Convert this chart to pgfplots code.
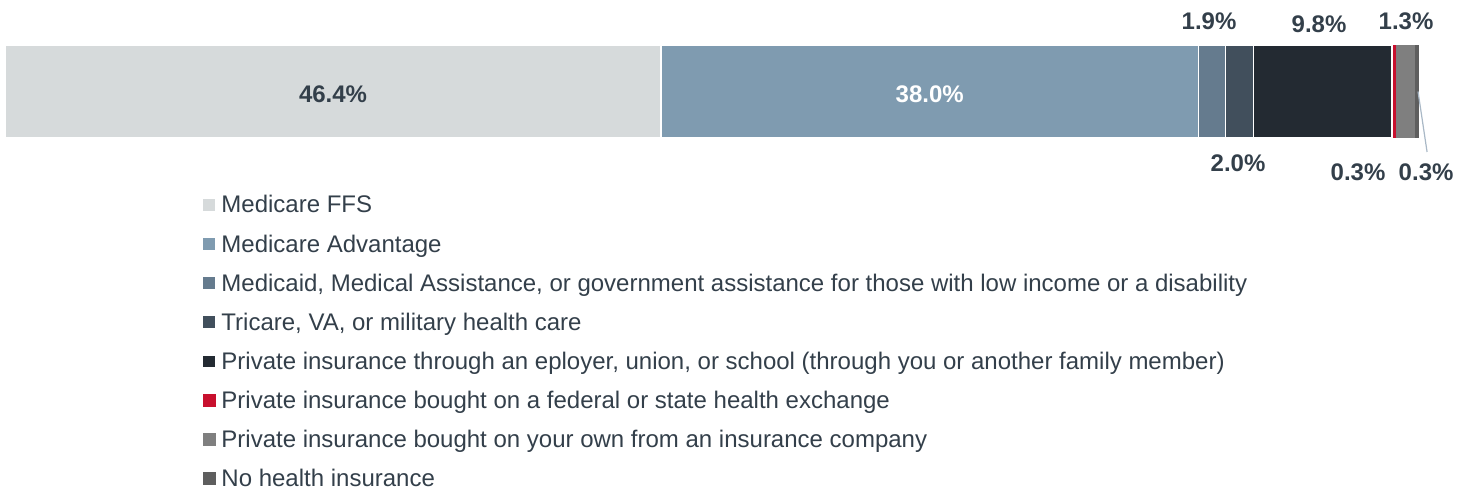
\documentclass[border=0pt]{standalone}
\usepackage{pgfplots}
\pgfplotsset{compat=1.18}
\usepackage{fontspec}
\setmainfont{Liberation Sans}
\definecolor{cFFS}{HTML}{D6DADB}
\definecolor{cMA}{HTML}{7F9BB0}
\definecolor{cMcd}{HTML}{657B8E}
\definecolor{cTri}{HTML}{414F5C}
\definecolor{cEmp}{HTML}{232A32}
\definecolor{cExc}{HTML}{C8102E}
\definecolor{cOwn}{HTML}{7F7F7F}
\definecolor{cNo}{HTML}{5E5E5E}
\definecolor{cTxt}{HTML}{333F4A}
\definecolor{cLead}{HTML}{A9B8C6}
\tikzset{lbl/.style={font=\fontsize{12bp}{14bp}\selectfont\bfseries, text=cTxt, inner sep=0pt}}
\begin{document}
\begin{tikzpicture}
\path[use as bounding box] (0,0) rectangle (736bp,-245.5bp);
\begin{axis}[
  at={(2.5bp,-69bp)}, anchor=south west,
  scale only axis, width=707bp, height=46.5bp,
  xmin=0, xmax=100, ymin=-0.5, ymax=0.5,
  hide axis, clip=false,
  xbar stacked, bar width=46.5bp,
  legend style={at={(axis description cs:0.1393,-0.612)}, anchor=north west,
    draw=none, fill=none, font=\fontsize{12bp}{14bp}\selectfont, text=cTxt,
    inner sep=0pt, outer sep=0pt,
    row sep=9.55bp, column sep=2.5bp,
    nodes={text height=9bp, text depth=1bp, inner sep=0pt}},
  legend cell align=left,
]
\addplot[fill=cFFS, draw=white, line width=0.75bp, legend image code/.code={\path (0bp,-3.25bp) rectangle (6.5bp,3.25bp);\fill[cFFS] (0.5bp,-2.25bp) rectangle (5bp,2.25bp);}] coordinates {(46.4,0)};
\addlegendentry{Medicare FFS}
\addplot[fill=cMA, draw=white, line width=0.75bp, legend image code/.code={\path (0bp,-3.25bp) rectangle (6.5bp,3.25bp);\fill[cMA] (0.5bp,-2.25bp) rectangle (5bp,2.25bp);}] coordinates {(38.0,0)};
\addlegendentry{Medicare Advantage}
\addplot[fill=cMcd, draw=white, line width=0.75bp, legend image code/.code={\path (0bp,-3.25bp) rectangle (6.5bp,3.25bp);\fill[cMcd] (0.5bp,-2.25bp) rectangle (5bp,2.25bp);}] coordinates {(1.9,0)};
\addlegendentry{Medicaid, Medical Assistance, or government assistance for those with low income or a disability}
\addplot[fill=cTri, draw=white, line width=0.75bp, legend image code/.code={\path (0bp,-3.25bp) rectangle (6.5bp,3.25bp);\fill[cTri] (0.5bp,-2.25bp) rectangle (5bp,2.25bp);}] coordinates {(2.0,0)};
\addlegendentry{Tricare, VA, or military health care}
\addplot[fill=cEmp, draw=white, line width=0.75bp, legend image code/.code={\path (0bp,-3.25bp) rectangle (6.5bp,3.25bp);\fill[cEmp] (0.5bp,-2.25bp) rectangle (5bp,2.25bp);}] coordinates {(9.8,0)};
\addlegendentry{Private insurance through an eployer, union, or school (through you or another family member)}
\addplot[fill=cExc, draw=none, legend image code/.code={\fill[cExc] (0bp,-3.25bp) rectangle (6.5bp,3.25bp);}] coordinates {(0.3,0)};
\addlegendentry{Private insurance bought on a federal or state health exchange}
\addplot[fill=cOwn, draw=none, legend image code/.code={\fill[cOwn] (0bp,-3.25bp) rectangle (6.5bp,3.25bp);}] coordinates {(1.3,0)};
\addlegendentry{Private insurance bought on your own from an insurance company}
\addplot[fill=cNo, draw=none, legend image code/.code={\fill[cNo] (0bp,-3.25bp) rectangle (6.5bp,3.25bp);}] coordinates {(0.3,0)};
\addlegendentry{No health insurance}
\coordinate (l1) at (axis cs:23.2,-0.03);
\coordinate (l2) at (axis cs:65.4,-0.03);
\coordinate (l3) at (axis cs:85.15,0.76);
\coordinate (l4) at (axis cs:92.93,0.727);
\coordinate (l5) at (axis cs:99.08,0.76);
\coordinate (l6) at (axis cs:87.2,-0.769);
\coordinate (l7) at (axis cs:95.69,-0.866);
\coordinate (l8) at (axis cs:100.5,-0.866);
\coordinate (k1) at (axis cs:99.93,0.0);
\coordinate (k2) at (axis cs:100.57,-0.65);
\end{axis}
\node[lbl] at (l1) {46.4\%};
\node[lbl, text=white] at (l2) {38.0\%};
\node[lbl] at (l3) {1.9\%};
\node[lbl] at (l4) {9.8\%};
\node[lbl] at (l5) {1.3\%};
\node[lbl] at (l6) {2.0\%};
\node[lbl] at (l7) {0.3\%};
\node[lbl] at (l8) {0.3\%};
\draw[cLead, line width=0.6bp] (k1) -- (k2);
\end{tikzpicture}
\end{document}
